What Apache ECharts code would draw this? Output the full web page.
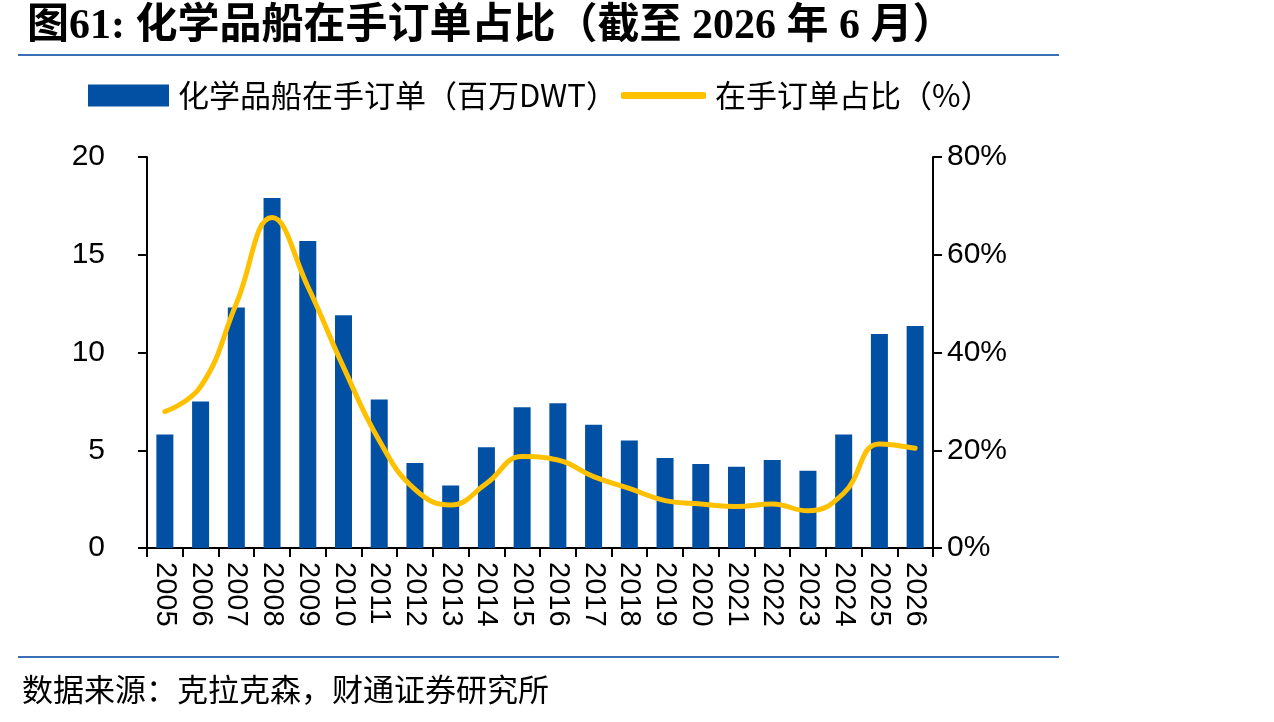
<!DOCTYPE html>
<html>
<head>
<meta charset="utf-8">
<script src="https://cdn.jsdelivr.net/npm/echarts@6/dist/echarts.min.js"></script>
<style>
  html, body { margin: 0; padding: 0; background: #fff; }
  #chart { width: 1274px; height: 722px; }
</style>
</head>
<body>
<div id="chart"></div>
<script>
const years = ['2005', '2006', '2007', '2008', '2009', '2010', '2011', '2012', '2013', '2014', '2015',
  '2016', '2017', '2018', '2019', '2020', '2021', '2022', '2023', '2024', '2025', '2026'];
// 化学品船在手订单（百万DWT）
const orderbook = [5.8, 7.5, 12.3, 17.9, 15.7, 11.9, 7.6, 4.35, 3.2, 5.15, 7.2,
  7.4, 6.3, 5.5, 4.6, 4.3, 4.15, 4.5, 3.95, 5.8, 10.95, 11.35];
// 在手订单占比（%）
const orderRatio = [27.9, 33, 50, 67.6, 53.5, 37, 22, 12, 8.8, 13.2, 18.7,
  18, 14.6, 12.2, 9.7, 9.0, 8.5, 9.0, 7.6, 11.2, 21.3, 20.4];
const leftTicks = { min: 0, max: 20, interval: 5 };
const rightTicks = { min: 0, max: 80, interval: 20 };

const barName = '化学品船在手订单（百万DWT）';
const lineName = '在手订单占比（%）';
const blue = '#0150A3';
const yellow = '#FFC000';
const numFont = 'Liberation Sans, Arial, sans-serif';
const cjkFont = 'Noto Sans CJK SC, sans-serif';

const chart = echarts.init(document.getElementById('chart'));

const axisCommon = {
  axisLine: { show: true, lineStyle: { color: '#000', width: 2 } },
  axisTick: { show: true, inside: false, length: 9, lineStyle: { color: '#000', width: 2 } },
  splitLine: { show: false },
};

const legendText = { fontFamily: cjkFont, fontSize: 31, color: '#000', padding: [0, 0, 0, 4] };

const option = {
  animation: false,
  backgroundColor: '#fff',
  grid: { left: 147, right: 341, top: 157, bottom: 174 },
  legend: [
    {
      data: [barName],
      left: 88, top: 80, padding: 0,
      itemWidth: 81, itemHeight: 22,
      icon: 'rect',
      textStyle: legendText,
    },
    {
      data: [lineName],
      left: 621, top: 80, padding: 0,
      itemWidth: 85, itemHeight: 7,
      icon: 'roundRect',
      textStyle: legendText,
    },
  ],
  xAxis: {
    type: 'category',
    data: years,
    boundaryGap: true,
    ...axisCommon,
    axisLabel: { interval: 0, rotate: -90, margin: 14, fontFamily: numFont, fontSize: 29, color: '#000' },
  },
  yAxis: [
    {
      type: 'value',
      ...leftTicks,
      ...axisCommon,
      axisLabel: { margin: 42, fontFamily: numFont, fontSize: 30, color: '#000' },
    },
    {
      type: 'value',
      position: 'right',
      ...rightTicks,
      ...axisCommon,
      axisLabel: { margin: 14, fontFamily: numFont, fontSize: 30, color: '#000', formatter: '{value}%' },
    },
  ],
  series: [
    {
      name: barName,
      type: 'bar',
      data: orderbook,
      barWidth: 17,
      itemStyle: { color: blue },
    },
    {
      name: lineName,
      type: 'line',
      yAxisIndex: 1,
      data: orderRatio,
      smooth: 0.45,
      showSymbol: false,
      lineStyle: { color: yellow, width: 5, cap: 'round' },
      itemStyle: { color: yellow },
    },
  ],
  graphic: [
    {
      type: 'text', left: 27, top: 6,
      style: {
        text: '图61: 化学品船在手订单占比（截至 2026 年 6 月）',
        font: 'bold 42px "Liberation Serif", "Noto Sans CJK SC", serif',
        fill: '#000',
      },
    },
    {
      type: 'line',
      shape: { x1: 18, y1: 55, x2: 1059, y2: 55 },
      style: { stroke: '#3A6FB7', lineWidth: 2 },
    },
    {
      type: 'line',
      shape: { x1: 18, y1: 657, x2: 1059, y2: 657 },
      style: { stroke: '#3A6FB7', lineWidth: 2 },
    },
    {
      type: 'text', left: 22, top: 674,
      style: {
        text: '数据来源：克拉克森，财通证券研究所',
        font: '31px "Noto Sans CJK SC", sans-serif',
        fill: '#000',
      },
    },
  ],
};

chart.setOption(option);
</script>
</body>
</html>
